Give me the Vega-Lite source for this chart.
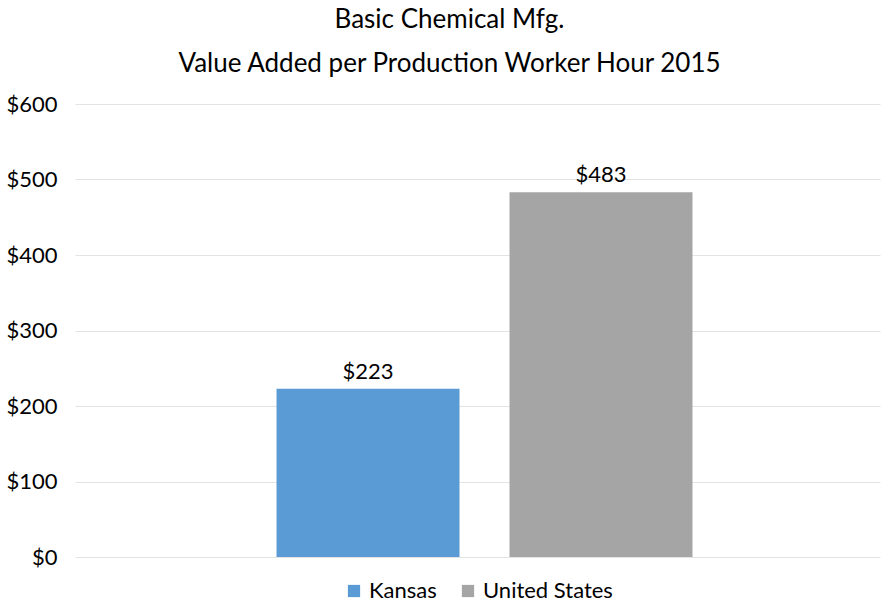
{
  "$schema": "https://vega.github.io/schema/vega-lite/v6.json",
  "width": 805,
  "height": 453,
  "autosize": {"type": "none"},
  "padding": {"left": 75, "top": 104, "right": 15, "bottom": 45},
  "background": "white",
  "title": {
    "text": ["Basic Chemical Mfg.", "Value Added per Production Worker Hour 2015"],
    "font": "Lato",
    "fontSize": 26,
    "fontWeight": "normal",
    "color": "#000000",
    "lineHeight": 44,
    "anchor": "middle",
    "dx": -28,
    "offset": 16
  },
  "config": {
    "view": {"stroke": null},
    "font": "Lato"
  },
  "data": {
    "values": [
      {"series": "Kansas", "value": 223},
      {"series": "United States", "value": 483}
    ]
  },
  "encoding": {
    "x": {
      "field": "series",
      "type": "nominal",
      "sort": ["Kansas", "United States"],
      "scale": {"paddingInner": 0.2146, "paddingOuter": 0.835, "align": 0.518},
      "axis": null
    },
    "y": {
      "field": "value",
      "type": "quantitative",
      "scale": {"domain": [0, 600]},
      "axis": {
        "values": [0, 100, 200, 300, 400, 500, 600],
        "labelExpr": "'$' + datum.value",
        "title": null,
        "domain": false,
        "ticks": false,
        "labelFont": "Lato",
        "labelFontSize": 22,
        "labelColor": "#000000",
        "labelPadding": 18,
        "gridColor": "#E3E3E3",
        "gridWidth": 1
      }
    }
  },
  "layer": [
    {
      "mark": {"type": "bar"},
      "encoding": {
        "color": {
          "field": "series",
          "type": "nominal",
          "scale": {"domain": ["Kansas", "United States"], "range": ["#5B9BD5", "#A5A5A5"]},
          "legend": {
            "orient": "none",
            "legendX": 268,
            "legendY": 476,
            "direction": "horizontal",
            "title": null,
            "symbolType": "square",
            "symbolSize": 150,
            "symbolStrokeWidth": 0,
            "labelOffset": 4,
            "labelFont": "Lato",
            "labelFontSize": 22,
            "labelColor": "#000000",
            "columnPadding": 20
          }
        }
      }
    },
    {
      "mark": {"type": "text", "baseline": "bottom", "dy": -5, "font": "Lato", "fontSize": 22, "color": "#000000"},
      "encoding": {
        "text": {"field": "value", "type": "quantitative", "format": "$,.0f"}
      }
    }
  ]
}
